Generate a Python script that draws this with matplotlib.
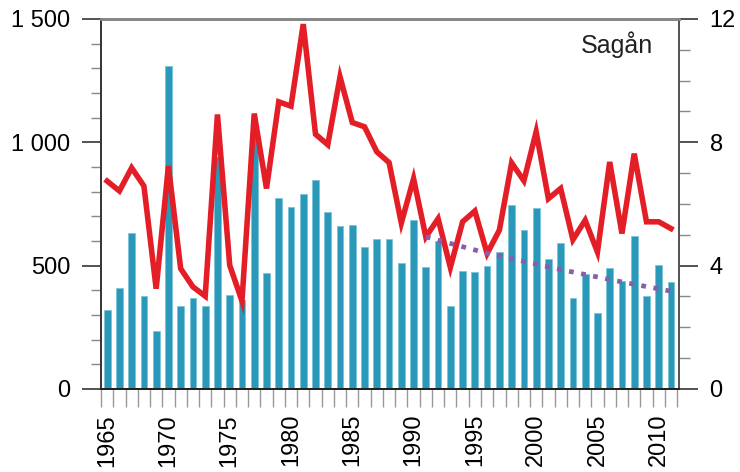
import numpy as np
import matplotlib
matplotlib.use('Agg')
import matplotlib.pyplot as plt

plt.rcParams['font.family'] = ['Liberation Sans', 'DejaVu Sans']

years = list(range(1965, 2012))

# bars, left axis
bar_values = [319, 409, 634, 376, 235, 1308, 335, 369, 335, 940,
              381, 360, 1020, 468, 772, 738, 789, 847, 719, 659,
              666, 577, 608, 608, 511, 685, 495, 600, 335, 478,
              473, 500, 557, 746, 643, 735, 527, 591, 369, 465,
              308, 492, 438, 619, 376, 503, 432]

# red line, right axis
line_values = [6.74, 6.42, 7.17, 6.58, 3.25, 7.23, 3.90, 3.31, 3.01, 8.90,
               4.01, 2.85, 8.93, 6.50, 9.31, 9.17, 11.83, 8.26, 7.92, 10.12,
               8.64, 8.50, 7.69, 7.34, 5.38, 6.82, 4.93, 5.52, 3.94, 5.42,
               5.77, 4.39, 5.15, 7.33, 6.75, 8.34, 6.17, 6.50, 4.84, 5.47,
               4.44, 7.36, 5.04, 7.63, 5.42, 5.42, 5.20]

# dotted trend, right axis
trend_years = [1991, 1996, 2002, 2007, 2011]
trend_values = [4.93, 4.40, 3.87, 3.47, 3.17]

left_ticks = [0, 500, 1000, 1500]
left_labels = ['0', '500', '1 000', '1 500']
right_ticks = [0, 4, 8, 12]
label_years = list(range(1965, 2011, 5))

bar_color = '#2a98b8'
red = '#e41e26'
purple = '#8a5daa'

fig = plt.figure(figsize=(7.4, 4.72), dpi=100)
ax = fig.add_axes([0.1365, 0.176, 0.781, 0.784])
ax2 = ax.twinx()

ax.bar(years, bar_values, width=0.55, color=bar_color, edgecolor='#7cc4d8', linewidth=0.6, zorder=2)
ax2.plot(years, line_values, color=red, lw=4.0, solid_joinstyle='miter', zorder=3)
ax2.plot(trend_years, trend_values, color=purple, lw=3.4, linestyle=(0, (1, 1.6)), dash_capstyle='butt', zorder=4)

ax.set_xlim(1964.5, 2011.65)
ax.set_ylim(0, 1500)
ax2.set_ylim(0, 12)

ax.set_yticks(left_ticks)
ax.set_yticklabels(left_labels)
ax.set_yticks(np.arange(0, 1501, 100), minor=True)
ax2.set_yticks(right_ticks)
ax2.set_yticks(np.arange(0, 13, 1), minor=True)

ax.set_xticks(label_years)
ax.set_xticklabels([str(y) for y in label_years], rotation=90)
ax.set_xticks(np.arange(1964.5, 2012, 1), minor=True)

ax.tick_params(axis='y', which='major', length=14, width=1.3, color='#444444', labelsize=17, pad=8, direction='out')
ax.tick_params(axis='y', which='minor', length=7, width=1.0, color='#888888', direction='out')
ax2.tick_params(axis='y', which='major', length=14, width=1.3, color='#444444', labelsize=17, pad=8, direction='out')
ax2.tick_params(axis='y', which='minor', length=8, width=1.0, color='#888888', direction='out')
ax.tick_params(axis='x', which='major', length=0, labelsize=17, pad=18)
ax.tick_params(axis='x', which='minor', length=13, width=1.0, color='#999999', direction='out')

for a in (ax, ax2):
    a.spines['top'].set_color('#888888')
    a.spines['top'].set_linewidth(2)
    a.spines['left'].set_color('#333333')
    a.spines['right'].set_color('#555555')
    a.spines['bottom'].set_color('#222222')
    a.spines['left'].set_linewidth(1.2)
    a.spines['right'].set_linewidth(1.4)
    a.spines['bottom'].set_linewidth(1.4)

ax2.text(0.955, 0.93, 'Sagån', transform=ax.transAxes, ha='right', va='center', fontsize=18, color='#222222')

fig.savefig('out.png', dpi=100)
